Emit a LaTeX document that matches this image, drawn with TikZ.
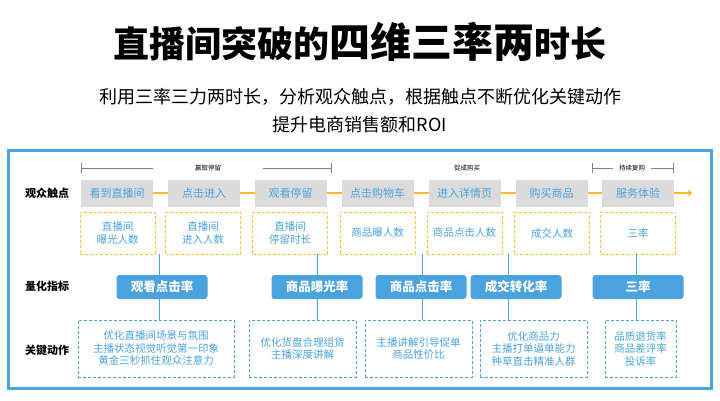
\documentclass[tikz,border=0pt]{standalone}
\usepackage{fontspec}
\setmainfont{Noto Sans CJK SC}
\begin{document}
\begin{tikzpicture}[x=1pt,y=-1pt,
  touch/.style={fill=gray!28,draw=none,minimum width=72pt,minimum height=27pt,inner sep=0pt,text=cB,font=\fontsize{11}{13}\selectfont},
  data/.style={draw=cY,densely dashed,line width=0.7pt,minimum width=75pt,minimum height=42pt,inner sep=0pt,align=center,text=cB,font=\fontsize{10.5}{13.5}\selectfont},
  metric/.style={fill=cB,rounded corners=3pt,minimum width=91pt,minimum height=24pt,inner sep=0pt,text=white,font=\fontsize{12.5}{14}\selectfont\bfseries},
  act/.style={draw=cB,densely dashed,line width=0.6pt,minimum height=57pt,inner sep=0pt,align=center,text=cB,font=\fontsize{10.5}{12.5}\selectfont},
  rowlab/.style={font=\fontsize{11}{13}\selectfont\bfseries},
  phase/.style={font=\fontsize{6.5}{7}\selectfont,fill=white,inner sep=3pt},
  conn/.style={draw=cB,line width=0.7pt}]
\definecolor{cB}{HTML}{4AA3DF}
\definecolor{cY}{HTML}{F5C242}
\definecolor{cO}{HTML}{F5B82E}
\useasboundingbox (0,0) rectangle (720,401);
\fill[white] (0,0) rectangle (720,401);
\node (title) at (360,42) {\fontsize{36}{40}\selectfont\bfseries 直播间突破的{\fontsize{41}{44}\selectfont 四维三率两}时长};
\node (sub1) at (360,97) {\fontsize{18}{20}\selectfont 利用三率三力两时长，分析观众触点，根据触点不断优化关键动作};
\node (sub2) at (360,125) {\fontsize{18}{20}\selectfont 提升电商销售额和ROI};
\draw[cB,line width=3pt] (8,151) rectangle (711,388);
% phase bracket
\draw[gray,line width=0.6pt] (81,168) -- (331,168) (592,168) -- (673,168);
\draw[gray,line width=0.6pt] (81,163)--(81,173) (331,163)--(331,173) (592,163)--(592,173) (673,163)--(673,173);
\fill[white] (153,165) rectangle (263,171);
\fill[white] (412,165) rectangle (522,171);
\node[phase] (p1) at (208,168) {赢取停留};
\node[phase] (p2) at (467,168) {促成购买};
\node[phase,inner sep=6pt] (p3) at (632,168) {持续复购};
% row labels
\node[rowlab] (r1) at (47,193) {观众触点};
\node[rowlab] (r2) at (47,286) {量化指标};
\node[rowlab] (r3) at (47,350) {关键动作};
% touch points
\coordinate (arrend) at (692,193);
\draw[cO,line width=1.5pt,->] (117,193) -- (arrend);
\foreach \n/\x/\t in {t1/117/看到直播间,t2/204/点击进入,t3/290.5/观看停留,t4/377.5/点击购物车,t5/464.5/进入详情页,t6/551.5/购买商品,t7/638/服务体验}
  \node[touch] (\n) at (\x,193) {\t};
\foreach \n/\x/\t in {d1/117.5/直播间\\曝光人数,d2/203/直播间\\进入人数,d3/290/直播间\\停留时长,d4/377.5/商品曝人数,d5/464.5/商品点击人数,d6/552/成交人数,d7/638/三率}
  \node[data] (\n) at (\x,233) {\t};
% metrics
\foreach \n/\x/\t in {m1/162/观看点击率,m2/317/商品曝光率,m3/421/商品点击率,m4/516/成交转化率,m5/638/三率}
  \node[metric] (\n) at (\x,287) {\t};
% actions
\node[act,minimum width=156pt] (a1) at (156,348.5) {优化直播间场景与氛围\\主播状态视觉听觉第一印象\\黄金三秒抓住观众注意力};
\node[act,minimum width=107pt] (a2) at (302.5,348.5) {优化货盘合理组货\\主播深度讲解};
\node[act,minimum width=107pt] (a3) at (418.5,348.5) {主播讲解引导促单\\商品性价比};
\node[act,minimum width=107pt] (a4) at (533.5,348.5) {优化商品力\\主播打单逼单能力\\种草直击精准人群};
\node[act,minimum width=71pt] (a5) at (640.5,348.5) {品质退货率\\商品差评率\\投诉率};
% connectors
\draw[conn] (d1.south -| 159,0) -- (m1.north -| 159,0);
\draw[conn] (d3.south -| 317,0) -- (m2.north);
\draw[conn] (d4.south -| 422,0) -- (m3.north -| 422,0);
\draw[conn] (d5.south -| 508,0) -- (m4.north -| 508,0);
\draw[conn] (d7.south -| 636,0) -- (m5.north -| 636,0);
\draw[conn] (m1.south -| 159,0) -- (a1.north -| 159,0);
\draw[conn] (m2.south) -- (a2.north -| 317,0);
\draw[conn] (m3.south -| 422,0) -- (a3.north -| 422,0);
\draw[conn] (m4.south -| 508,0) -- (a4.north -| 508,0);
\draw[conn] (m5.south -| 636,0) -- (a5.north -| 636,0);
\end{tikzpicture}
\end{document}
